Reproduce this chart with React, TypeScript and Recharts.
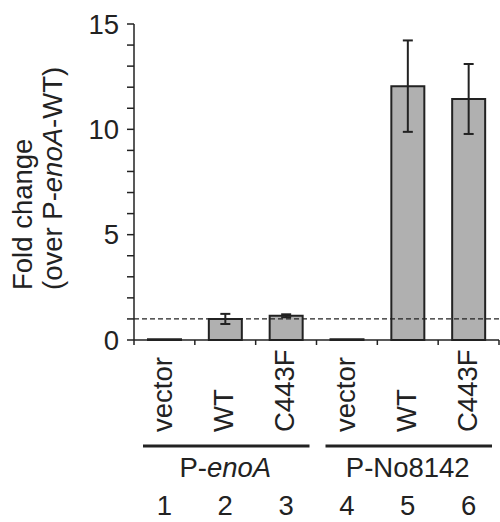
import React from "react";
import {
  BarChart,
  Bar,
  XAxis,
  YAxis,
  ErrorBar,
  ReferenceLine,
} from "recharts";

const categories = ["vector", "WT", "C443F", "vector", "WT", "C443F"];
const laneNumbers = ["1", "2", "3", "4", "5", "6"];
const foldChange = [0.03, 1.0, 1.15, 0.03, 12.05, 11.44];
const foldError = [0, 0.24, 0.07, 0, 2.17, 1.66];
const groupLabels = ["P-enoA", "P-No8142"];
const yTicks = [0, 1, 2, 3, 4, 5, 6, 7, 8, 9, 10, 11, 12, 13, 14, 15];

const chartData = categories.map((name, i) => ({
  id: i,
  name,
  value: foldChange[i],
  err: foldError[i],
}));

const WIDTH = 500;
const HEIGHT = 522;
const Y_AXIS_W = 134;
const RIGHT = 1;
const PLOT_W = WIDTH - Y_AXIS_W - RIGHT;
const FONT = "'Liberation Sans', Arial, sans-serif";
const FS = 27.5;
const INK = "#222";

// draws rotated lane name, lane number, boundary ticks and the group bracket
const CategoryTick = (props: any) => {
  const { x, y, index } = props;
  const band = PLOT_W / categories.length;
  const lx = x + 8;
  const ly = y + 92;
  const isMiddle = index % 3 === 1;
  const g = Math.floor(index / 3);
  return (
    <g fontFamily={FONT} fontSize={FS} fill={INK}>
      <line x1={x - band / 2} x2={x - band / 2} y1={y} y2={y + 5} stroke={INK} strokeWidth={1.5} />
      {index === categories.length - 1 && (
        <line x1={x + band / 2} x2={x + band / 2} y1={y} y2={y + 5} stroke={INK} strokeWidth={1.5} />
      )}
      <text
        x={lx}
        y={ly}
        transform={`rotate(-90, ${lx}, ${ly})`}
        textAnchor="start"
      >
        {categories[index]}
      </text>
      <text x={x} y={y + 175} textAnchor="middle">
        {laneNumbers[index]}
      </text>
      {isMiddle && (
        <>
          <line
            x1={x - 1.5 * band + 9}
            x2={x + 1.5 * band - 7}
            y1={y + 106}
            y2={y + 106}
            stroke={INK}
            strokeWidth={3}
          />
          <text x={x} y={y + 137} textAnchor="middle">
            {g === 0 ? (
              <>
                P-<tspan fontStyle="italic">enoA</tspan>
              </>
            ) : (
              groupLabels[g]
            )}
          </text>
        </>
      )}
    </g>
  );
};

const YLabel = () => (
  <g fontFamily={FONT} fontSize={FS} fill={INK}>
    <text x={32} y={290} transform="rotate(-90, 32, 290)" textAnchor="start">
      Fold change
    </text>
    <text x={62} y={290} transform="rotate(-90, 62, 290)" textAnchor="start">
      (over P-<tspan fontStyle="italic">enoA</tspan>-WT)
    </text>
  </g>
);

export default function App() {
  return (
    <div style={{ position: "absolute", left: 0, top: 0 }}>
      <BarChart
        width={WIDTH}
        height={HEIGHT}
        data={chartData}
        margin={{ top: 24, right: RIGHT, left: 0, bottom: 181 }}
      >
        <XAxis
          dataKey="id"
          height={1}
          interval={0}
          tickSize={0}
          tickMargin={0}
          tickLine={false}
          axisLine={{ stroke: INK, strokeWidth: 1.5 }}
          tick={<CategoryTick />}
        />
        <YAxis
          width={Y_AXIS_W}
          domain={[0, 15]}
          ticks={yTicks}
          interval={0}
          tickSize={7}
          tickMargin={8}
          axisLine={{ stroke: INK, strokeWidth: 1.5 }}
          tickLine={{ stroke: INK, strokeWidth: 1.5 }}
          tick={{ fill: INK, fontSize: FS, fontFamily: FONT }}
          tickFormatter={(v: number) => (v % 5 === 0 ? String(v) : "")}
          label={<YLabel />}
        />
        <ReferenceLine
          y={1}
          stroke={INK}
          strokeWidth={1.2}
          strokeDasharray="5 3"
        />
        <Bar
          dataKey="value"
          barSize={33}
          fill="#b0b0b0"
          stroke={INK}
          strokeWidth={2}
          isAnimationActive={false}
        >
          <ErrorBar
            dataKey="err"
            width={5}
            stroke={INK}
            strokeWidth={2}
            direction="y"
          />
        </Bar>
      </BarChart>
    </div>
  );
}
